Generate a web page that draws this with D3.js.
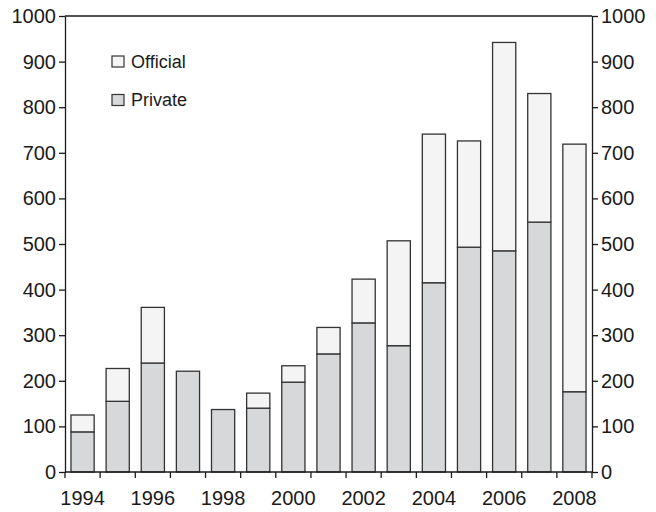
<!DOCTYPE html>
<html>
<head>
<meta charset="utf-8">
<script src="https://cdnjs.cloudflare.com/ajax/libs/d3/7.8.5/d3.min.js"></script>
<style>
  body { margin: 0; background: #fff; }
  svg { display: block; }
  text { font-family: "Liberation Sans", Arial, sans-serif; fill: #1a1a1a; }
</style>
</head>
<body>
<div id="chart"></div>
<script>
var years = ["1994","1995","1996","1997","1998","1999","2000","2001","2002","2003","2004","2005","2006","2007","2008"];
var privateVals  = [88, 155, 239, 221, 137, 140, 197, 259, 327, 277, 415, 493, 485, 548, 176];
var officialVals = [37, 72, 122, 0, 0, 33, 36, 58, 96, 230, 326, 233, 457, 282, 543];
var yTicks = [0, 100, 200, 300, 400, 500, 600, 700, 800, 900, 1000];
var xLabels = ["1994","1996","1998","2000","2002","2004","2006","2008"];

var margin = {top: 16, right: 64, bottom: 40, left: 65},
    width = 656 - margin.left - margin.right,
    height = 512 - margin.top - margin.bottom;

var svg = d3.select("#chart")
    .append("svg")
    .attr("width", 656)
    .attr("height", 512)
    .append("g")
    .attr("transform", "translate(" + margin.left + "," + margin.top + ")");

var x = d3.scaleBand()
    .domain(years)
    .range([0, width])
    .paddingInner(0.34)
    .paddingOuter(0.17);

var y = d3.scaleLinear()
    .domain([0, 1000])
    .range([height, 0]);

var step = x.step();

// stacked bars
var data = years.map(function(yr, i) {
    return {year: yr, priv: privateVals[i], off: officialVals[i]};
});

svg.selectAll(".priv")
    .data(data)
    .enter()
    .append("rect")
    .attr("x", function(d) { return x(d.year); })
    .attr("y", function(d) { return y(d.priv); })
    .attr("width", x.bandwidth())
    .attr("height", function(d) { return height - y(d.priv); })
    .style("fill", "#d7d8da")
    .style("stroke", "#333")
    .style("stroke-width", 1.3);

svg.selectAll(".off")
    .data(data.filter(function(d) { return d.off > 0; }))
    .enter()
    .append("rect")
    .attr("x", function(d) { return x(d.year); })
    .attr("y", function(d) { return y(d.priv + d.off); })
    .attr("width", x.bandwidth())
    .attr("height", function(d) { return y(d.priv) - y(d.priv + d.off); })
    .style("fill", "#f4f4f4")
    .style("stroke", "#333")
    .style("stroke-width", 1.3);

// frame top line
svg.append("line")
    .attr("x1", 0).attr("x2", width)
    .attr("y1", 0).attr("y2", 0)
    .style("stroke", "#1a1a1a")
    .style("stroke-width", 1.3);

// y axes
var yLeft = svg.append("g")
    .call(d3.axisLeft(y).tickValues(yTicks).tickFormat(d3.format("d")).tickSize(6).tickPadding(3).tickSizeOuter(0));
var yRight = svg.append("g")
    .attr("transform", "translate(" + width + ",0)")
    .call(d3.axisRight(y).tickValues(yTicks).tickFormat(d3.format("d")).tickSize(6).tickPadding(3).tickSizeOuter(0));

// x axis: ticks at bar boundaries, labels at bar centres
var xb = svg.append("g")
    .attr("transform", "translate(0," + height + ")");
xb.append("line")
    .attr("x1", 0).attr("x2", width)
    .style("stroke", "#1a1a1a")
    .style("stroke-width", 1.3);
xb.selectAll(".xt")
    .data(d3.range(years.length + 1))
    .enter()
    .append("line")
    .attr("x1", function(i) { return i * step; })
    .attr("x2", function(i) { return i * step; })
    .attr("y1", 0).attr("y2", 6)
    .style("stroke", "#1a1a1a")
    .style("stroke-width", 1.3);
xb.selectAll(".xl")
    .data(xLabels)
    .enter()
    .append("text")
    .attr("x", function(d) { return x(d) + x.bandwidth() / 2; })
    .attr("y", 33)
    .attr("text-anchor", "middle")
    .style("font-size", "20px")
    .text(function(d) { return d; });

[yLeft, yRight].forEach(function(g) {
    g.select(".domain").style("stroke", "#1a1a1a").style("stroke-width", 1.3);
    g.selectAll(".tick line").style("stroke", "#1a1a1a").style("stroke-width", 1.3);
    g.selectAll(".tick text").style("font-size", "20px").style("font-family", "Liberation Sans, Arial, sans-serif").attr("fill", "#1a1a1a");
});

// legend
var legend = [{name: "Official", color: "#f4f4f4"}, {name: "Private", color: "#d7d8da"}];
var lg = svg.selectAll(".lg")
    .data(legend)
    .enter()
    .append("g")
    .attr("transform", function(d, i) { return "translate(47," + (40 + i * 38.5) + ")"; });
lg.append("rect")
    .attr("width", 12).attr("height", 11)
    .style("fill", function(d) { return d.color; })
    .style("stroke", "#333")
    .style("stroke-width", 1.2);
lg.append("text")
    .attr("x", 19)
    .attr("y", 11.5)
    .style("font-size", "18px")
    .text(function(d) { return d.name; });
</script>
</body>
</html>
